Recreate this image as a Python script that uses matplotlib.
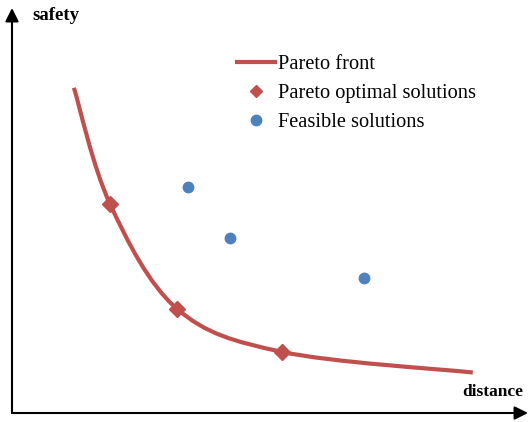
"""Pareto front sketch: safety vs distance."""

import matplotlib

matplotlib.use("Agg")
import matplotlib.pyplot as plt
from matplotlib.lines import Line2D
from matplotlib.patches import PathPatch
from matplotlib.path import Path

# values (arbitrary units, axes span 0..10)
front_x = [1.20, 1.90, 3.20, 5.23, 8.93]
front_y = [8.03, 5.16, 2.57, 1.51, 1.00]
optimal_x = [1.90, 3.20, 5.23]
optimal_y = [5.16, 2.57, 1.51]
feasible_x = [3.42, 4.23, 6.82]
feasible_y = [5.59, 4.32, 3.33]
legend_labels = ["Pareto front", "Pareto optimal solutions", "Feasible solutions"]

RED = "#C0504D"
BLUE = "#4F81BD"
SERIF = ["Liberation Serif", "DejaVu Serif"]


def smooth_path(xs, ys):
    # Catmull-Rom style bezier through the points (like a "smoothed line")
    pts = list(zip(xs, ys))
    verts = [pts[0]]
    codes = [Path.MOVETO]
    n = len(pts)
    for i in range(n - 1):
        p0 = pts[max(i - 1, 0)]
        p1 = pts[i]
        p2 = pts[i + 1]
        p3 = pts[min(i + 2, n - 1)]
        c1 = (p1[0] + (p2[0] - p0[0]) / 6, p1[1] + (p2[1] - p0[1]) / 6)
        c2 = (p2[0] - (p3[0] - p1[0]) / 6, p2[1] - (p3[1] - p1[1]) / 6)
        verts += [c1, c2, p2]
        codes += [Path.CURVE4] * 3
    return Path(verts, codes)


fig = plt.figure(figsize=(5.29, 4.22), dpi=100)
ax = fig.add_axes([12 / 529, 9 / 422, 516 / 529, 405 / 422])
ax.set_xlim(0, 10)
ax.set_ylim(0, 10)
ax.axis("off")

# axes with arrow heads
arrow = dict(arrowstyle="-|>", color="black", lw=1.5, mutation_scale=20,
             shrinkA=0, shrinkB=0)
ax.annotate("", xy=(0, 1), xytext=(0, 0), xycoords="axes fraction", arrowprops=arrow)
ax.annotate("", xy=(1, 0), xytext=(0, 0), xycoords="axes fraction", arrowprops=arrow)

ax.add_patch(PathPatch(smooth_path(front_x, front_y), facecolor="none",
                       edgecolor=RED, lw=3, zorder=2))
ax.plot(optimal_x, optimal_y, "D", color=RED, markersize=8, zorder=3)
ax.plot(feasible_x, feasible_y, "o", color=BLUE, markersize=7.5, zorder=3)

fig.text(32 / 529, 1 - 20 / 422, "safety", family=SERIF, fontweight="bold",
         fontsize=13.5, va="baseline")
fig.text(462 / 529, 1 - 396 / 422, "distance", family=SERIF, fontweight="bold",
         fontsize=12.5, va="baseline")

handles = [
    Line2D([], [], color=RED, lw=3),
    Line2D([], [], color=RED, marker="D", ls="none", markersize=6.5),
    Line2D([], [], color=BLUE, marker="o", ls="none", markersize=7.5),
]
ax.legend(handles, legend_labels, loc="upper left",
          bbox_to_anchor=(237 / 529, 1 - 55 / 422), bbox_transform=fig.transFigure,
          frameon=False, borderpad=0, borderaxespad=0, handlelength=1.85,
          handletextpad=0.15, labelspacing=0.47,
          prop={"family": SERIF, "size": 14.7})

fig.savefig("out.png", dpi=100)
plt.close(fig)
